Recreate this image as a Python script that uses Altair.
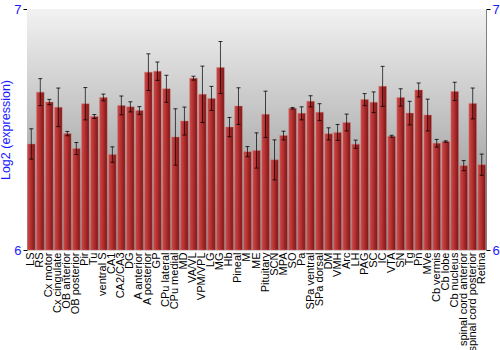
import altair as alt
import pandas as pd

regions = ["LS", "RS", "Cx motor", "Cx cingulate", "OB anterior", "OB posterior", "Pir", "Tu",
           "ventral S", "CA1", "CA2/CA3", "DG", "A anterior", "A posterior", "GP", "CPu lateral",
           "CPu medial", "MD", "VA/VL", "VPM/VPL", "LG", "MG", "Hb", "Pineal", "M", "ME",
           "Pituitary", "SCN", "MPA", "SO", "Pa", "SPa ventral", "SPa dorsal", "DM", "VMH", "Arc",
           "LH", "PAG", "SC", "IC", "VTA", "SN", "Tg", "Pn", "MVe", "Cb vermis", "Cb lobe",
           "Cb nucleus", "spinal cord anterior", "spinal cord posterior", "Retina"]
values = [6.44, 6.655, 6.614, 6.592, 6.483, 6.421, 6.607, 6.554, 6.633, 6.396, 6.600, 6.594,
          6.579, 6.738, 6.742, 6.669, 6.469, 6.535, 6.713, 6.646, 6.629, 6.757, 6.510, 6.597,
          6.408, 6.413, 6.563, 6.374, 6.475, 6.588, 6.567, 6.617, 6.572, 6.482, 6.488, 6.529,
          6.439, 6.624, 6.613, 6.679, 6.472, 6.633, 6.568, 6.664, 6.560, 6.443, 6.450, 6.658,
          6.350, 6.608, 6.354]
errors = [0.063, 0.056, 0.011, 0.080, 0.009, 0.025, 0.067, 0.008, 0.014, 0.032, 0.039, 0.021,
          0.016, 0.076, 0.038, 0.056, 0.117, 0.058, 0.008, 0.117, 0.050, 0.108, 0.040, 0.076,
          0.021, 0.073, 0.096, 0.083, 0.018, 0.003, 0.027, 0.023, 0.035, 0.025, 0.033, 0.035,
          0.017, 0.025, 0.043, 0.083, 0.004, 0.036, 0.049, 0.029, 0.066, 0.016, 0.003, 0.038,
          0.021, 0.064, 0.044]
y_ticks = [6, 7]

df = pd.DataFrame({"region": regions, "value": values, "err": errors})
df["lo"] = df["value"] - df["err"]
df["hi"] = df["value"] + df["err"]

W, H = 459, 241
blue = "#1a1aff"
FONT = "Liberation Sans"

x = alt.X("region:N", sort=regions, title=None,
          scale=alt.Scale(paddingInner=0.15, paddingOuter=0.05),
          axis=alt.Axis(labelAngle=-90, labelFontSize=11, labelColor="black", ticks=False,
                        domain=False, labelPadding=2, labelFont=FONT,
                        labelOverlap=False))
yscale = alt.Scale(domain=[6, 7], zero=False, nice=False)

bg = alt.Chart(pd.DataFrame({"a": [0]})).mark_rect(
    color=alt.Gradient(gradient="linear", x1=0, x2=0, y1=0, y2=1,
                       stops=[alt.GradientStop(offset=0, color="#f2f2f2"),
                              alt.GradientStop(offset=1, color="#868686")])
).encode(x=alt.value(0), x2=alt.value(W),
         y=alt.Y(datum=7, scale=yscale, axis=None), y2=alt.Y2(datum=6))

bars = alt.Chart(df).mark_bar(
    color=alt.Gradient(gradient="linear", x1=0, x2=1, y1=0, y2=0,
                       stops=[alt.GradientStop(offset=0, color="#c84a4a"),
                              alt.GradientStop(offset=0.4, color="#b83232"),
                              alt.GradientStop(offset=1, color="#7a1515")]),
    stroke="#d88080", strokeOpacity=0.5, strokeWidth=0.8
).encode(
    x=x,
    y=alt.Y("value:Q", scale=yscale, title="Log2 (expression)",
            axis=alt.Axis(values=y_ticks, format="d", labelFontSize=13, labelColor=blue,
                          titleColor=blue, titleFontSize=12.5, titleFontWeight="normal",
                          titleFont=FONT, labelFont=FONT, grid=False, tickColor="black",
                          tickSize=4, domainColor="#808080", titlePadding=1, labelPadding=2)),
    y2=alt.datum(6)
)

rules = alt.Chart(df).mark_rule(color="black", opacity=0.7, strokeWidth=1).encode(
    x=x, y=alt.Y("lo:Q", scale=yscale, axis=None), y2="hi:Q")
caps_lo = alt.Chart(df).mark_tick(color="black", opacity=0.8, size=4, thickness=1).encode(
    x=x, y=alt.Y("lo:Q", scale=yscale, axis=None))
caps_hi = alt.Chart(df).mark_tick(color="black", opacity=0.8, size=4, thickness=1).encode(
    x=x, y=alt.Y("hi:Q", scale=yscale, axis=None))

right_axis = alt.Chart(df).mark_tick(opacity=0).encode(
    y=alt.Y("value:Q", scale=yscale, title=None,
            axis=alt.Axis(orient="right", values=y_ticks, format="d", labelFontSize=13,
                          labelColor=blue, labelFont=FONT, grid=False, tickColor="black",
                          tickSize=4, domainColor="#808080", labelPadding=2)))

chart = alt.layer(bg, bars, rules, caps_lo, caps_hi, right_axis).resolve_axis(
    y="independent").properties(
    width=W, height=H, autosize=alt.AutoSizeParams(type="none"),
    padding={"left": 27, "top": 9, "right": 14, "bottom": 100}
).configure_view(stroke="#808080", strokeWidth=1).configure(background="white")

chart.save("out.html", embed_options={"renderer": "svg", "actions": False})
